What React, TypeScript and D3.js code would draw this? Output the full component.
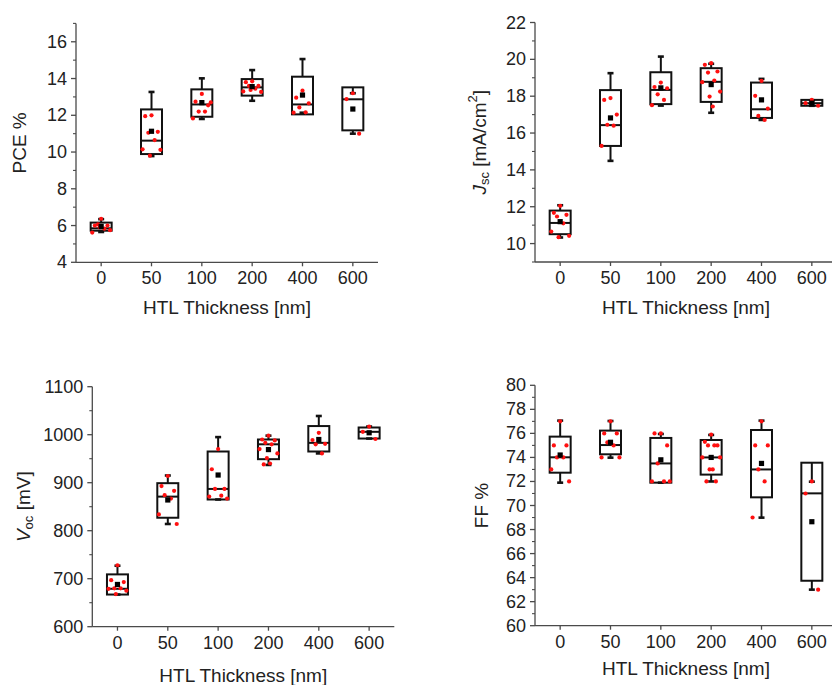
import React from "react";
import * as d3 from "d3";

// HTL thickness groups (nm)
const CATEGORIES = ["0", "50", "100", "200", "400", "600"];

// PCE (%)
const pceLow = [5.65, 9.78, 11.8, 12.79, 12.14, 11.0];
const pceQ1 = [5.72, 9.89, 11.92, 13.07, 12.05, 11.18];
const pceMedian = [5.85, 10.62, 12.59, 13.52, 12.59, 12.87];
const pceQ3 = [6.16, 12.32, 13.41, 13.97, 14.1, 13.52];
const pceHigh = [6.35, 13.27, 14.01, 14.46, 15.06, 13.2];
const pceMean = [5.95, 11.13, 12.69, 13.56, 13.1, 12.34];
const pcePoints = [
  [6.37, 6.0, 6.0, 6.07, 5.83, 5.62, 5.75, 5.9],
  [12.0, 11.95, 11.1, 11.05, 10.65, 10.15, 10.12, 9.8],
  [13.16, 12.74, 12.54, 12.2, 12.2, 11.83, 12.7],
  [13.85, 13.8, 13.6, 13.6, 13.45, 13.3, 13.27, 13.38],
  [13.34, 12.96, 12.65, 12.43, 12.16, 12.14],
  [13.2, 12.88, 11.0],
];

// Jsc (mA/cm2)
const jscLow = [10.33, 14.49, 17.49, 17.1, 16.71, 17.48];
const jscQ1 = [10.51, 15.3, 17.57, 17.69, 16.82, 17.48];
const jscMedian = [11.12, 16.43, 18.34, 18.78, 17.29, 17.62];
const jscQ3 = [11.79, 18.33, 19.3, 19.52, 18.74, 17.8];
const jscHigh = [12.08, 19.25, 20.15, 19.76, 18.94, 17.78];
const jscMean = [11.19, 16.82, 18.45, 18.63, 17.8, 17.62];
const jscPoints = [
  [12.05, 11.67, 11.56, 11.47, 11.1, 10.65, 10.42, 10.35],
  [17.9, 17.8, 17.0, 16.45, 16.4, 15.3],
  [18.74, 18.5, 18.43, 18.1, 17.8, 17.51],
  [19.79, 19.7, 19.34, 19.28, 18.85, 18.76, 18.25, 17.98, 17.44],
  [18.83, 18.02, 17.33, 16.93, 16.71],
  [17.8, 17.62, 17.48],
];

// Voc (mV)
const vocLow = [667, 814, 865, 937, 961, 992];
const vocQ1 = [667, 827, 865, 949, 965, 992];
const vocMedian = [679, 871, 887, 980, 983, 1006];
const vocQ3 = [709, 899, 965, 990, 1018, 1015];
const vocHigh = [727, 915, 995, 998, 1039, 1017];
const vocMean = [688, 864, 916, 969, 990, 1004];
const vocPoints = [
  [728, 697, 693, 680, 680, 679, 675, 668],
  [914, 893, 883, 874, 867, 834, 814],
  [970, 928, 887, 887, 873, 871, 867],
  [998, 990, 988, 983, 980, 970, 961, 951, 940, 938],
  [1004, 989, 981, 980, 961],
  [1017, 1006, 991],
];

// FF (%)
const ffLow = [71.9, 73.98, 71.9, 72.0, 68.99, 63.0];
const ffQ1 = [72.73, 74.26, 71.9, 72.57, 70.68, 63.74];
const ffMedian = [74.01, 75.03, 73.5, 74.0, 73.0, 71.01];
const ffQ3 = [75.73, 76.23, 75.62, 75.45, 76.28, 73.56];
const ffHigh = [77.06, 77.03, 75.95, 75.87, 77.06, 71.98];
const ffMean = [74.2, 75.26, 73.8, 74.0, 73.5, 68.65];
const ffPoints = [
  [77, 75, 75, 74, 74, 73, 72],
  [77, 76, 76, 75.25, 75, 74, 74],
  [76, 76, 75, 73.5, 72, 72, 72],
  [75.9, 75.3, 75, 75, 75, 74, 74, 73, 73, 72, 72],
  [77, 75, 75, 73, 72, 69],
  [72, 71, 63],
];

const FONT = "Arial, 'Liberation Sans', Helvetica, sans-serif";
const AXIS_COLOR = "#4a4a4a";
const TEXT_COLOR = "#222";
const BOX_W = 21;
const CAP_W = 6;

// horizontal offsets for the raw points, as fractions of half the box width
const JITTER = [0, -0.6, 0.6, -0.3, 0.3, -0.85, 0.85, -0.15, 0.15, -0.45, 0.45];

type Stats = {
  low: number[];
  q1: number[];
  median: number[];
  q3: number[];
  high: number[];
  mean: number[];
  points: number[][];
};

type PanelProps = {
  stats: Stats;
  left: number;
  right: number;
  top: number;
  bottom: number;
  domain: [number, number];
  majorStep: number;
  minorStep: number;
  firstMajor: number;
  yTitleX: number;
  xTitleY: number;
  yTitle: React.ReactNode;
};

function Panel(p: PanelProps) {
  const x = d3.scalePoint<string>().domain(CATEGORIES).range([p.left, p.right]).padding(0.5);
  const y = d3.scaleLinear().domain(p.domain).range([p.bottom, p.top]);
  const majors = d3.range(p.firstMajor, p.domain[1] + 1e-9, p.majorStep);
  const minors = d3
    .range(p.domain[0], p.domain[1] + 1e-9, p.minorStep)
    .filter((v) => !majors.some((m) => Math.abs(m - v) < 1e-9));
  const s = p.stats;
  const midY = (p.top + p.bottom) / 2;
  const midX = (p.left + p.right) / 2;

  return (
    <g>
      {/* axes */}
      <line x1={p.left} x2={p.left} y1={p.top} y2={p.bottom} stroke={AXIS_COLOR} strokeWidth={1.3} />
      <line x1={p.left} x2={p.right} y1={p.bottom} y2={p.bottom} stroke={AXIS_COLOR} strokeWidth={1.3} />
      {majors.map((v) => (
        <g key={"M" + v}>
          <line x1={p.left - 5} x2={p.left} y1={y(v)} y2={y(v)} stroke={AXIS_COLOR} strokeWidth={1.3} />
          <text
            x={p.left - 9}
            y={y(v)}
            textAnchor="end"
            dominantBaseline="central"
            fontSize={18}
            fill={TEXT_COLOR}
            fontFamily={FONT}
          >
            {v}
          </text>
        </g>
      ))}
      {minors.map((v) => (
        <line key={"m" + v} x1={p.left - 3} x2={p.left} y1={y(v)} y2={y(v)} stroke={AXIS_COLOR} strokeWidth={1.1} />
      ))}
      {CATEGORIES.map((c) => (
        <g key={"x" + c}>
          <line x1={x(c)} x2={x(c)} y1={p.bottom} y2={p.bottom + 4} stroke={AXIS_COLOR} strokeWidth={1.3} />
          <text
            x={x(c)}
            y={p.bottom + 22}
            textAnchor="middle"
            fontSize={18}
            fill={TEXT_COLOR}
            fontFamily={FONT}
          >
            {c}
          </text>
        </g>
      ))}
      <text
        x={midX}
        y={p.xTitleY}
        textAnchor="middle"
        dominantBaseline="central"
        fontSize={19}
        fill={TEXT_COLOR}
        fontFamily={FONT}
      >
        HTL Thickness [nm]
      </text>
      <text
        transform={`translate(${p.yTitleX},${midY}) rotate(-90)`}
        textAnchor="middle"
        dominantBaseline="central"
        fontSize={19}
        fill={TEXT_COLOR}
        fontFamily={FONT}
      >
        {p.yTitle}
      </text>

      {/* boxes */}
      {CATEGORIES.map((c, i) => {
        const cx = x(c) as number;
        const yq1 = y(s.q1[i]);
        const yq3 = y(s.q3[i]);
        return (
          <g key={"b" + c}>
            <line x1={cx} x2={cx} y1={yq3} y2={y(s.high[i])} stroke="#111" strokeWidth={2} />
            <line x1={cx} x2={cx} y1={yq1} y2={y(s.low[i])} stroke="#111" strokeWidth={2} />
            <line x1={cx - CAP_W / 2} x2={cx + CAP_W / 2} y1={y(s.high[i])} y2={y(s.high[i])} stroke="#111" strokeWidth={2.6} />
            <line x1={cx - CAP_W / 2} x2={cx + CAP_W / 2} y1={y(s.low[i])} y2={y(s.low[i])} stroke="#111" strokeWidth={2.6} />
            <rect
              x={cx - BOX_W / 2}
              y={Math.min(yq1, yq3)}
              width={BOX_W}
              height={Math.abs(yq1 - yq3)}
              fill="none"
              stroke="#111"
              strokeWidth={2}
            />
            <line x1={cx - BOX_W / 2} x2={cx + BOX_W / 2} y1={y(s.median[i])} y2={y(s.median[i])} stroke="#111" strokeWidth={2} />
            {s.points[i].map((v, j) => (
              <circle
                key={j}
                cx={cx + JITTER[j % JITTER.length] * (BOX_W / 2)}
                cy={y(v)}
                r={2.1}
                fill="#ff1010"
              />
            ))}
            <rect x={cx - 2.6} y={y(s.mean[i]) - 2.6} width={5.2} height={5.2} fill="#000" />
          </g>
        );
      })}
    </g>
  );
}

export default function App() {
  const pce: Stats = { low: pceLow, q1: pceQ1, median: pceMedian, q3: pceQ3, high: pceHigh, mean: pceMean, points: pcePoints };
  const jsc: Stats = { low: jscLow, q1: jscQ1, median: jscMedian, q3: jscQ3, high: jscHigh, mean: jscMean, points: jscPoints };
  const voc: Stats = { low: vocLow, q1: vocQ1, median: vocMedian, q3: vocQ3, high: vocHigh, mean: vocMean, points: vocPoints };
  const ff: Stats = { low: ffLow, q1: ffQ1, median: ffMedian, q3: ffQ3, high: ffHigh, mean: ffMean, points: ffPoints };

  return (
    <svg
      width={832}
      height={685}
      style={{ position: "fixed", left: 0, top: 0, background: "#fff" }}
      fontFamily={FONT}
    >
      <rect width={832} height={685} fill="#fff" />
      <Panel
        stats={pce}
        left={76}
        right={378}
        top={23.4}
        bottom={262.3}
        domain={[4, 17]}
        firstMajor={4}
        majorStep={2}
        minorStep={1}
        yTitleX={19}
        xTitleY={307}
        yTitle="PCE %"
      />
      <Panel
        stats={jsc}
        left={535}
        right={837}
        top={22.5}
        bottom={262}
        domain={[9, 22]}
        firstMajor={10}
        majorStep={2}
        minorStep={1}
        yTitleX={479}
        xTitleY={307}
        yTitle={
          <>
            <tspan fontStyle="italic">J</tspan>
            <tspan fontSize={13} dy={5}>sc</tspan>
            <tspan dy={-5}> [mA/cm</tspan>
            <tspan fontSize={13} dy={-7}>2</tspan>
            <tspan dy={7}>]</tspan>
          </>
        }
      />
      <Panel
        stats={voc}
        left={92.3}
        right={394.3}
        top={386.7}
        bottom={626.7}
        domain={[600, 1100]}
        firstMajor={600}
        majorStep={100}
        minorStep={50}
        yTitleX={23}
        xTitleY={675}
        yTitle={
          <>
            <tspan fontStyle="italic">V</tspan>
            <tspan fontSize={13} dy={5}>oc</tspan>
            <tspan dy={-5}> [mV]</tspan>
          </>
        }
      />
      <Panel
        stats={ff}
        left={535}
        right={837}
        top={385.3}
        bottom={625.7}
        domain={[60, 80]}
        firstMajor={60}
        majorStep={2}
        minorStep={1}
        yTitleX={481}
        xTitleY={668}
        yTitle="FF %"
      />
    </svg>
  );
}
